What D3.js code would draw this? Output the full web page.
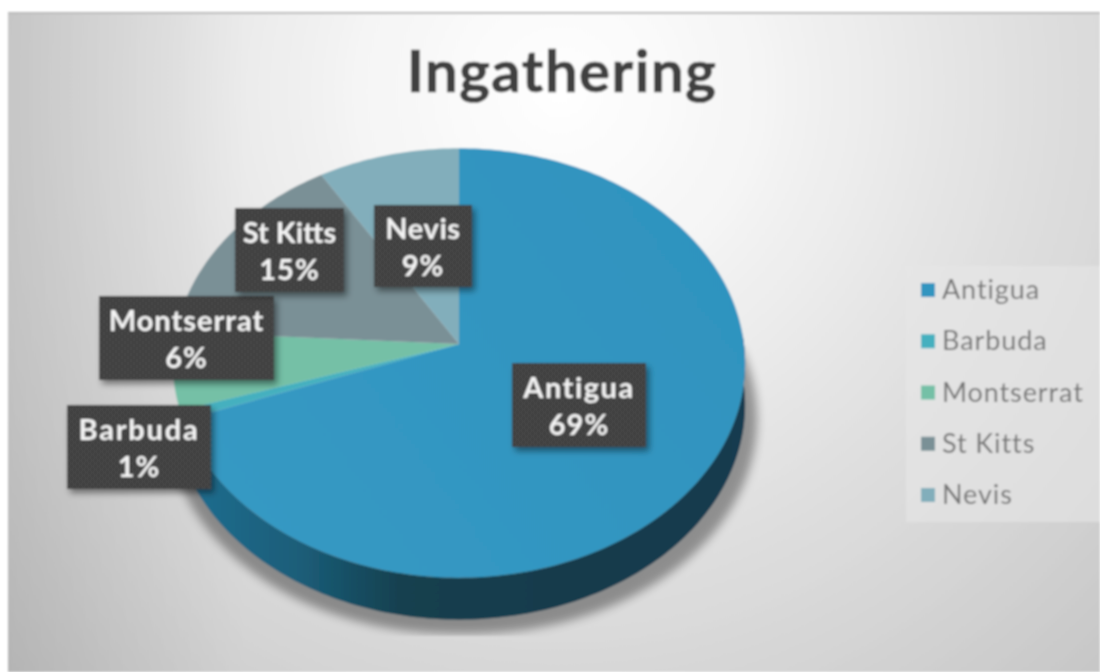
<!DOCTYPE html>
<html><head><meta charset="utf-8">
<script src="https://cdn.jsdelivr.net/npm/d3@7"></script>
<style>html,body{margin:0;padding:0;background:#fff}svg{display:block}</style>
</head><body><svg id="c" width="1100" height="672"></svg>
<script>
const categories=["Antigua","Barbuda","Montserrat","St Kitts","Nevis"];
const values=[69.4,0.7,5.8,15.4,8.7];
const colors=["#3195c0","#45b0bf","#74c0a6","#7a9096","#82aebb"];
const chartTitle="Ingathering";
const labelCenters=[[579,405],[139,447],[186.5,338],[289.5,250],[423,246]];
const labelSizes=[[134,84],[144,84],[175,84],[109,84],[98,82]];
const labelTracking=[1.5,1.8,1,0,0.6];

const svg=d3.select("#c");
const defs=svg.append("defs");
const bg=defs.append("radialGradient").attr("id","bg").attr("gradientUnits","userSpaceOnUse")
  .attr("cx",560).attr("cy",90).attr("r",800);
[[0,"#ffffff"],[0.25,"#f5f5f5"],[0.5,"#e4e4e4"],[0.75,"#d6d6d6"],[1,"#c6c6c6"]].forEach(s=>bg.append("stop").attr("offset",s[0]).attr("stop-color",s[1]));
const leftShade=defs.append("linearGradient").attr("id","leftShade").attr("x1",0).attr("x2",1).attr("y1",0).attr("y2",0);
leftShade.append("stop").attr("offset",0).attr("stop-color","#000").attr("stop-opacity",0.09);
leftShade.append("stop").attr("offset",1).attr("stop-color","#000").attr("stop-opacity",0);
const topFace=defs.append("linearGradient").attr("id","topFace").attr("gradientUnits","userSpaceOnUse").attr("x1",700).attr("y1",200).attr("x2",250).attr("y2",520);
topFace.append("stop").attr("offset",0).attr("stop-color","#2f93bf");
topFace.append("stop").attr("offset",1).attr("stop-color","#3699c3");
const soft=defs.append("filter").attr("id","soft").attr("x","-2%").attr("y","-2%").attr("width","104%").attr("height","104%");
soft.append("feGaussianBlur").attr("stdDeviation",0.8);
const sh=defs.append("filter").attr("id","sh").attr("x","-10%").attr("y","-10%").attr("width","125%").attr("height","125%");
sh.append("feDropShadow").attr("dx",3).attr("dy",4).attr("stdDeviation",3).attr("flood-color","#000").attr("flood-opacity",0.45);
const sb=defs.append("filter").attr("id","sb").attr("x","-10%").attr("y","-10%").attr("width","120%").attr("height","120%");
sb.append("feGaussianBlur").attr("stdDeviation",5);
const sideGrad=defs.append("linearGradient").attr("id","side").attr("gradientUnits","userSpaceOnUse").attr("x1",190).attr("x2",745).attr("y1",0).attr("y2",0);
[[0,"#1f6d8f"],[0.2,"#1b5d78"],[0.38,"#14404f"],[0.7,"#123a4c"],[1,"#123a4f"]].forEach(s=>sideGrad.append("stop").attr("offset",s[0]).attr("stop-color",s[1]));
const pat=defs.append("pattern").attr("id","dots").attr("patternUnits","userSpaceOnUse").attr("width",6).attr("height",6);
pat.append("rect").attr("width",6).attr("height",6).attr("fill","#3f3f3f");
pat.append("rect").attr("width",3).attr("height",3).attr("fill","#474747");
pat.append("rect").attr("x",3).attr("y",3).attr("width",3).attr("height",3).attr("fill","#474747");

const root=svg.append("g").attr("filter","url(#soft)");
root.append("rect").attr("x",8).attr("y",12).attr("width",1092).attr("height",660).attr("fill","url(#bg)");
root.append("rect").attr("x",8).attr("y",12).attr("width",240).attr("height",660).attr("fill","url(#leftShade)");
root.append("rect").attr("x",8).attr("y",12).attr("width",1092).attr("height",2).attr("fill","#bbbbbb");
root.append("text").text(chartTitle).attr("x",562).attr("y",92).attr("text-anchor","middle")
  .attr("font-family","Lato, sans-serif").attr("font-weight",700).attr("font-size",58).attr("letter-spacing",1.5)
  .attr("stroke","#404040").attr("stroke-width",0.7).attr("fill","#404040");

// perspective projection of the flat pie disc onto the screen
const cx=459,cy=344,R=285,A=213,P=0.0884,depth=42;
const proj=(a,dy=0)=>{const w=1+P*Math.cos(a);return [cx+R*Math.sin(a)/w,cy-A*Math.cos(a)/w+dy];};
const arcs=d3.pie().sort(null)(values);
const rim=(a0,a1,dy=0)=>{const n=Math.max(2,Math.ceil((a1-a0)/0.02));return d3.range(n+1).map(i=>proj(a0+(a1-a0)*i/n,dy));};
const pathLine=d3.line();

// cast shadow, cut flat along its lower edge like the reference
const shadowClip=defs.append("clipPath").attr("id","shadowClip");
shadowClip.append("rect").attr("x",8).attr("y",100).attr("width",1092).attr("height",536);
root.append("g").attr("clip-path","url(#shadowClip)").append("path")
  .attr("d",pathLine(rim(Math.PI*0.42,Math.PI*1.42,depth+14).map(p=>[p[0]+(p[0]>459?12:-6),p[1]])))
  .attr("fill","#000").attr("opacity",0.36).attr("filter","url(#sb)");

// wall (visible front part of the rim)
const wallStart=Math.PI/2-0.05,wallEnd=arcs[0].endAngle;
const rimTop=rim(wallStart,wallEnd),rimBot=rim(wallStart,wallEnd,depth).reverse();
root.append("path").attr("d",pathLine(rimTop.concat(rimBot))+"Z").attr("fill","url(#side)");

root.selectAll("path.slice").data(arcs).join("path").attr("class","slice")
  .attr("d",d=>pathLine([[cx,cy]].concat(rim(d.startAngle,d.endAngle)))+"Z")
  .attr("fill",(d,i)=>i===0?"url(#topFace)":colors[i]);

// data labels
const lab=root.selectAll("g.lab").data(categories).join("g").attr("class","lab")
  .attr("transform",(d,i)=>`translate(${labelCenters[i][0]},${labelCenters[i][1]})`);
lab.append("rect").attr("x",(d,i)=>-labelSizes[i][0]/2).attr("y",(d,i)=>-labelSizes[i][1]/2)
  .attr("width",(d,i)=>labelSizes[i][0]).attr("height",(d,i)=>labelSizes[i][1])
  .attr("fill","url(#dots)").attr("filter","url(#sh)");
lab.append("text").text(d=>d).attr("y",-7).attr("text-anchor","middle").attr("letter-spacing",(d,i)=>labelTracking[i])
  .attr("font-family","Lato, sans-serif").attr("font-weight",700).attr("font-size",29).attr("fill","#f4f4f4");
lab.append("text").text((d,i)=>Math.round(values[i])+"%").attr("y",30).attr("text-anchor","middle").attr("letter-spacing",1)
  .attr("font-family","Lato, sans-serif").attr("font-weight",700).attr("font-size",29).attr("fill","#f4f4f4");

// legend
const ly=d3.scalePoint().domain(categories).range([290,495]);
root.append("rect").attr("x",906).attr("y",266).attr("width",194).attr("height",256).attr("fill","#e6e6e6").attr("opacity",0.6);
const leg=root.selectAll("g.leg").data(categories).join("g").attr("class","leg").attr("transform",d=>`translate(921,${ly(d)})`);
leg.append("rect").attr("y",-7).attr("width",14).attr("height",14).attr("fill",(d,i)=>colors[i]);
leg.append("text").text(d=>d).attr("x",21).attr("y",9).attr("letter-spacing",0.9).attr("font-family","Lato, sans-serif").attr("font-size",27).attr("fill","#757575");
</script></body></html>
